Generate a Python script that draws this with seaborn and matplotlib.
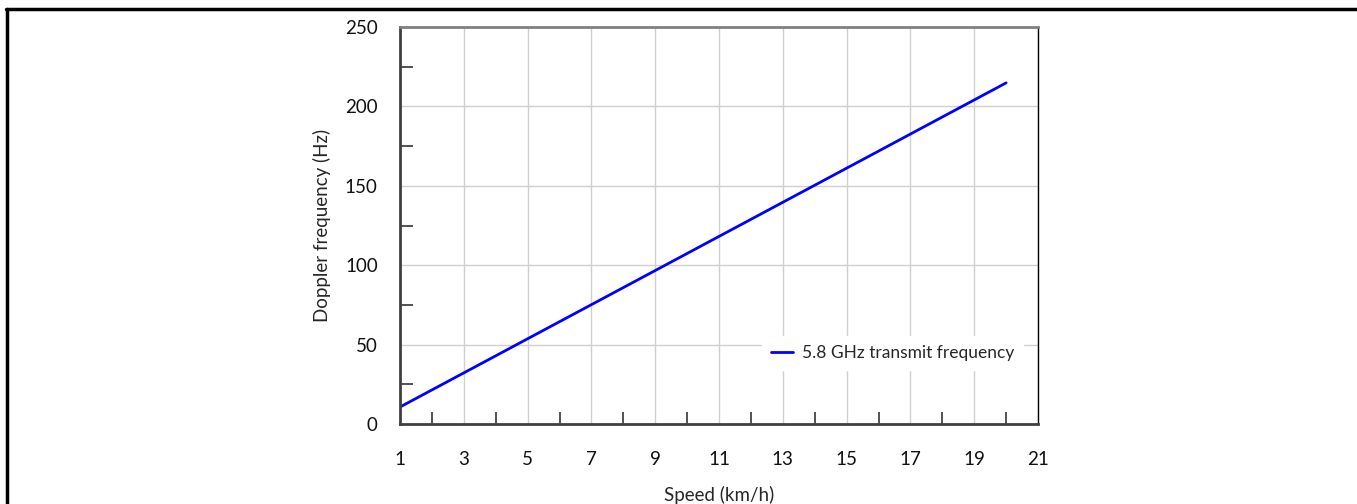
import matplotlib
matplotlib.use("Agg")
import matplotlib.pyplot as plt
import seaborn as sns
import pandas as pd
import numpy as np
from matplotlib.lines import Line2D

speed = [1, 20]
doppler = [10.7, 214.8]
series_name = "5.8 GHz transmit frequency"
x_label = "Speed (km/h)"
y_label = "Doppler frequency (Hz)"
x_ticks = [1, 3, 5, 7, 9, 11, 13, 15, 17, 19, 21]
y_ticks = [0, 50, 100, 150, 200, 250]

sns.set_theme(style="white")
plt.rcParams['font.family'] = ['Lato', 'DejaVu Sans']

df = pd.DataFrame({"speed": speed, "doppler": doppler, "series": series_name})

fig = plt.figure(figsize=(13.57, 5.04), dpi=100)
ax = fig.add_axes([400/1357, 1-424/504, 638/1357, 397/504])

sns.lineplot(data=df, x="speed", y="doppler", hue="series", palette=["#0000ff"],
             linewidth=2, ax=ax, legend=False)

ax.set_xlim(1, 21)
ax.set_ylim(0, 250)
ax.set_xticks(x_ticks)
ax.set_xticklabels([str(v) for v in x_ticks])
ax.set_yticks(y_ticks)
ax.set_yticklabels([str(v) for v in y_ticks])
ax.set_xticks(np.arange(2, 21, 2), minor=True)
ax.set_yticks(np.arange(25, 250, 50), minor=True)
ax.grid(True, which="major", color="#d0d0d0", linewidth=1)
ax.tick_params(axis="both", which="major", length=0, labelsize=13.5, colors="#111111")
ax.tick_params(axis="x", which="major", pad=19.5)
ax.tick_params(axis="y", which="major", pad=16)
ax.tick_params(axis="both", which="minor", direction="in", length=9, width=1.2, color="#333333")
ax.tick_params(axis="x", which="minor", bottom=True)
ax.tick_params(axis="y", which="minor", left=True)

for s in ["left", "bottom"]:
    ax.spines[s].set_color("#404040")
    ax.spines[s].set_linewidth(2)
ax.spines["top"].set_color("#808080")
ax.spines["top"].set_linewidth(2)
ax.spines["right"].set_color("#000000")
ax.spines["right"].set_linewidth(1)

ax.set_xlabel(x_label, fontsize=13.5, labelpad=13)
ax.set_ylabel(y_label, fontsize=13.5, labelpad=10)

handle = Line2D([], [], color="#0000ff", linewidth=2)
leg = ax.legend([handle], [series_name], loc="center left",
                bbox_to_anchor=(362/638, 71/397), borderaxespad=0,
                frameon=True, fontsize=12.5, handlelength=1.3, handletextpad=0.5,
                borderpad=0.5)
leg.get_frame().set_edgecolor("white")
leg.get_frame().set_facecolor("white")
leg.get_frame().set_alpha(1)
leg.get_frame().set_boxstyle("square", pad=0)

# figure frame: top and left lines
fig.add_artist(Line2D([6/1357, 1], [1-9/504, 1-9/504], color="black", linewidth=2.5,
                      transform=fig.transFigure))
fig.add_artist(Line2D([7/1357, 7/1357], [0, 1-9/504], color="black", linewidth=2.5,
                      transform=fig.transFigure))

fig.savefig("out.png", dpi=100)
